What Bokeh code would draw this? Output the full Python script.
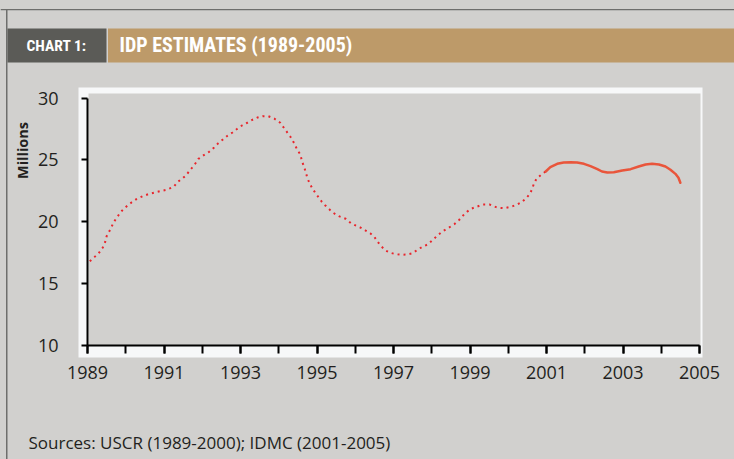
from bokeh.plotting import figure
from bokeh.models import (Range1d, FixedTicker, BoxAnnotation, Label)
from bokeh.embed import file_html
from bokeh.resources import INLINE

# ---- data ----
uscr_years = [
    1989.06, 1989.18, 1989.30, 1989.40, 1989.46, 1989.50, 1989.61, 1989.68, 1989.78, 1989.88,
    1990.01, 1990.15, 1990.29, 1990.44, 1990.59, 1990.74, 1990.90,
    1991.06, 1991.25, 1991.36, 1991.48, 1991.58, 1991.68, 1991.79, 1991.90,
    1992.04, 1992.18, 1992.31, 1992.42, 1992.54, 1992.66, 1992.79, 1992.91,
    1993.04, 1993.18, 1993.31, 1993.44, 1993.58, 1993.73, 1993.88,
    1994.04, 1994.16, 1994.30, 1994.37, 1994.43, 1994.49, 1994.56, 1994.62, 1994.67, 1994.71, 1994.75, 1994.80, 1994.87, 1994.95,
    1995.04, 1995.12, 1995.21, 1995.31, 1995.41, 1995.57, 1995.75, 1995.89,
    1996.01, 1996.15, 1996.27, 1996.39, 1996.50, 1996.58, 1996.68, 1996.79, 1996.92,
    1997.06, 1997.20, 1997.35, 1997.50, 1997.66, 1997.77, 1997.89,
    1998.02, 1998.15, 1998.29, 1998.44, 1998.59, 1998.72, 1998.81, 1998.92,
    1999.03, 1999.19, 1999.34, 1999.51, 1999.72, 1999.91,
    2000.10, 2000.23, 2000.35, 2000.46, 2000.56, 2000.62, 2000.67, 2000.74, 2000.90, 2000.98,
]
uscr_millions = [
    16.81, 17.14, 17.49, 17.92, 18.35, 18.83, 19.45, 19.94, 20.40, 20.83,
    21.21, 21.56, 21.85, 22.06, 22.23, 22.34, 22.47,
    22.58, 22.82, 23.23, 23.49, 23.76, 24.17, 24.57, 25.08,
    25.38, 25.65, 26.00, 26.35, 26.65, 26.95, 27.21, 27.50,
    27.78, 28.00, 28.24, 28.42, 28.53, 28.53, 28.34,
    28.00, 27.48, 26.89, 26.54, 26.16, 25.78, 25.46, 24.79, 24.36, 23.96, 23.52, 23.15, 22.74, 22.36,
    21.98, 21.64, 21.34, 21.04, 20.75, 20.45, 20.24, 19.88,
    19.70, 19.51, 19.29, 19.07, 18.78, 18.40, 18.02, 17.68, 17.49,
    17.38, 17.33, 17.35, 17.46, 17.81, 18.00, 18.16,
    18.51, 18.89, 19.24, 19.51, 19.80, 20.16, 20.48, 20.80,
    21.05, 21.23, 21.39, 21.39, 21.13, 21.10,
    21.23, 21.39, 21.58, 21.88, 22.23, 22.61, 23.07, 23.49, 23.90, 24.06,
]
idmc_years = [2000.98, 2001.10, 2001.28, 2001.45, 2001.63, 2001.80, 2001.98, 2002.15, 2002.33,
              2002.45, 2002.59, 2002.76, 2002.98, 2003.20, 2003.41, 2003.59, 2003.76, 2003.94,
              2004.11, 2004.24, 2004.37, 2004.45, 2004.50]
idmc_millions = [24.06, 24.41, 24.68, 24.79, 24.81, 24.79, 24.68, 24.49, 24.25,
                 24.06, 23.98, 24.00, 24.14, 24.25, 24.46, 24.63, 24.68, 24.63,
                 24.46, 24.20, 23.87, 23.55, 23.15]

x_label_years = [1989, 1991, 1993, 1995, 1997, 1999, 2001, 2003, 2005]
x_all_years = list(range(1989, 2006))
y_ticks = [10, 15, 20, 25, 30]
x_min, x_max = 1989, 2005
y_min, y_max = 10, 30

header_left = "CHART 1:"
header_title = "IDP ESTIMATES (1989-2005)"
y_title = "Millions"
source_text = "Sources: USCR (1989-2000); IDMC (2001-2005)"

# ---- styling / layout ----
BG = "#d1d0ce"
DARK = "#5b5b57"
TAN = "#bd9a69"
RED = "#e8262d"
ORANGE = "#e9553b"
TXT = "#231f20"
COND = "'Roboto Condensed', 'Liberation Sans Narrow', Roboto, sans-serif"

W, H = 734, 459
# pixel box of the axes (canvas px): left, right, top, bottom
AX_L, AX_R, AX_T, AX_B = 87.0, 699.0, 97.5, 345.0
sx = (AX_R - AX_L) / (x_max - x_min)
sy = (AX_B - AX_T) / (y_max - y_min)
xr = Range1d(x_min - AX_L / sx, x_max + (W - AX_R) / sx)
yr = Range1d(y_min - (H - AX_B) / sy, y_max + AX_T / sy)

p = figure(width=W, height=H, output_backend="svg", toolbar_location=None,
           x_range=xr, y_range=yr, min_border=0,
           min_border_left=0, min_border_right=0, min_border_top=0, min_border_bottom=0)
p.background_fill_color = BG
p.border_fill_color = BG
p.outline_line_color = None
p.xgrid.visible = False
p.ygrid.visible = False

def box(l, r, t, b, color):
    p.add_layout(BoxAnnotation(left=l, right=r, top=t, bottom=b,
                               left_units="canvas", right_units="canvas",
                               top_units="canvas", bottom_units="canvas",
                               fill_color=color, fill_alpha=1.0, line_color=None,
                               level="underlay"))

box(0, W, 8.5, 9.8, "#6e6e6c")       # top frame line
box(5.5, 7, 8.5, H, "#6e6e6c")       # left frame line
box(7, 106, 28, 62, DARK)            # header dark block
box(107.5, W, 28, 62, TAN)           # header tan block
box(78, 702, 87, 357, "#f7f8f9")     # white rim of chart image
box(88, 700, 93, 345, BG)            # chart interior

def label(x, y, text, font, size, color, align="left", style="normal", angle=0.0):
    p.add_layout(Label(x=x, y=y, x_units="canvas", y_units="canvas", text=text,
                       text_font=font, text_font_style=style, text_font_size=size,
                       text_color=color, text_align=align, text_baseline="middle",
                       angle=angle))

label(56, 45, header_left, COND, "15.5px", "white", align="center", style="bold")
label(119, 44, header_title, COND, "20px", "white", style="bold")
label(22, 150, y_title, "Open Sans", "14.5px", TXT, align="center", style="bold", angle=1.5708)
label(28, 442, source_text, "Open Sans", "17px", TXT)

# data lines
p.line(uscr_years, uscr_millions, line_color=RED, line_width=2, line_dash="2 4")
p.line(idmc_years, idmc_millions, line_color=ORANGE, line_width=2.5, line_cap="round")

# axes, fixed at the data origin
xa = p.xaxis[0]
xa.ticker = FixedTicker(ticks=x_label_years, minor_ticks=x_all_years)
xa.fixed_location = y_min
xa.bounds = (x_min, x_max)
ya = p.yaxis[0]
ya.ticker = FixedTicker(ticks=y_ticks)
ya.fixed_location = x_min
ya.bounds = (y_min, y_max)
for ax in (xa, ya):
    ax.axis_line_color = "black"
    ax.axis_line_width = 2
    ax.major_tick_line_color = "black"
    ax.major_tick_line_width = 2
    ax.major_tick_in = 0
    ax.major_label_text_font = "Open Sans"
    ax.major_label_text_font_size = "18px"
    ax.major_label_text_color = TXT
xa.major_tick_out = 8
xa.minor_tick_out = 8
xa.minor_tick_in = 0
xa.minor_tick_line_color = "black"
xa.minor_tick_line_width = 2
xa.major_label_standoff = 12
ya.major_tick_out = 6
ya.major_label_standoff = 23
ya.minor_tick_line_color = None

html = file_html(p, INLINE)
html = html.replace("<head>", "<head><style>body{background:%s;}</style>" % BG, 1)
open("out.html", "w").write(html)
